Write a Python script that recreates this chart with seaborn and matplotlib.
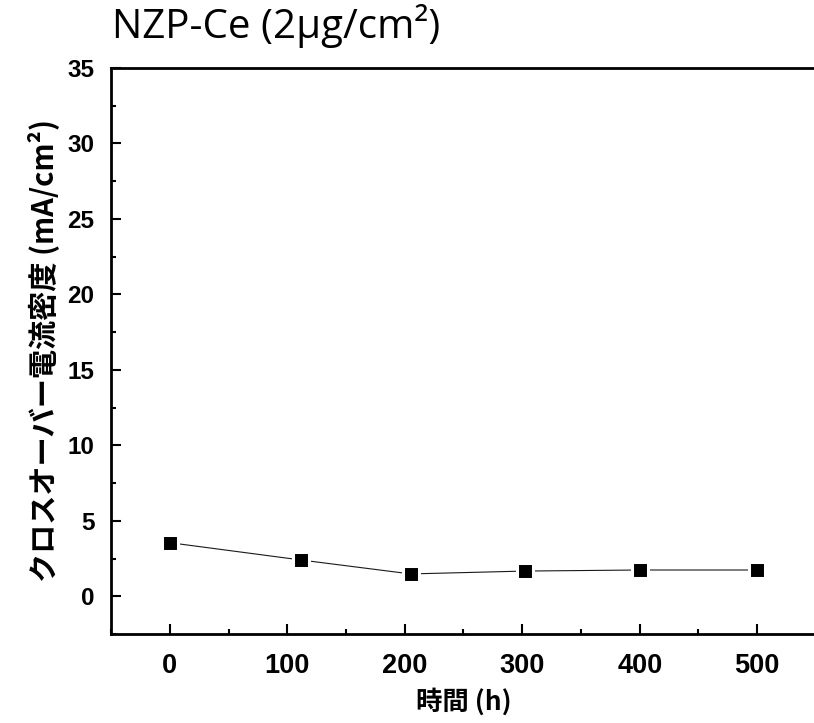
import matplotlib
matplotlib.use("Agg")
import matplotlib.pyplot as plt
from matplotlib.ticker import MultipleLocator
import seaborn as sns
import pandas as pd

# Crossover current density over time
hours = [0, 112, 205, 302, 400, 500]
current_density = [3.55, 2.40, 1.48, 1.67, 1.74, 1.74]

x_ticks = [0, 100, 200, 300, 400, 500]
y_ticks = [0, 5, 10, 15, 20, 25, 30, 35]

title_text = "NZP-Ce (2μg/cm²)"
x_label = "時間 (h)"
y_label = "クロスオーバー電流密度 (mA/cm²)"

df = pd.DataFrame({"time": hours, "density": current_density})

sns.set_theme(style="white")
cjk = ["Noto Sans CJK JP", "DejaVu Sans"]
plt.rcParams["font.family"] = cjk

fig = plt.figure(figsize=(8.14, 7.23), dpi=100)
ax = fig.add_axes([111 / 814, 1 - 634 / 723, 705 / 814, 566 / 723])

sns.lineplot(data=df, x="time", y="density", ax=ax, color="#1a1a1a",
             linewidth=0.8, marker="s", markersize=11.5,
             markerfacecolor="black", markeredgecolor="white",
             markeredgewidth=2.2, zorder=3)

ax.set_xlim(-50, 550)
ax.set_ylim(-2.5, 35)
ax.set_xticks(x_ticks)
ax.set_yticks(y_ticks)
ax.xaxis.set_minor_locator(MultipleLocator(50))
ax.yaxis.set_minor_locator(MultipleLocator(2.5))
ax.tick_params(which="both", direction="in", color="black", width=1.5,
               bottom=True, left=True, top=False, right=False)
ax.tick_params(which="major", length=7.2)
ax.tick_params(which="minor", length=3.8)
ax.tick_params(axis="x", which="major", pad=14)
ax.tick_params(axis="y", which="major", pad=12)

for lab in ax.get_xticklabels():
    lab.set_fontfamily("Liberation Sans")
    lab.set_fontweight("bold")
    lab.set_fontsize(19.5)
    lab.set_color("black")
for lab in ax.get_yticklabels():
    lab.set_fontfamily("Liberation Sans")
    lab.set_fontweight("bold")
    lab.set_fontsize(17.5)
    lab.set_color("black")

for s in ax.spines.values():
    s.set_color("black")
    s.set_linewidth(2.0)

ax.set_xlabel(x_label, fontsize=19, fontweight="bold", color="black",
              family=cjk, labelpad=6)
ax.set_ylabel(y_label, fontsize=21, fontweight="bold", color="black",
              family=cjk, labelpad=6)

fig.text(112 / 814, 1 - 38 / 723, title_text, fontsize=29,
         family=["Open Sans", "DejaVu Sans"], color="black",
         ha="left", va="baseline")

fig.savefig("out.png", dpi=100)
